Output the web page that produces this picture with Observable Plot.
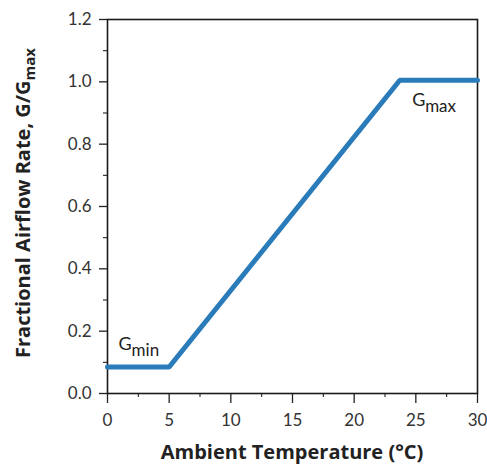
<!DOCTYPE html>
<html>
<head>
<meta charset="utf-8">
<script src="https://cdn.jsdelivr.net/npm/d3@7"></script>
<script src="https://cdn.jsdelivr.net/npm/@observablehq/plot@0.6"></script>
<style>
  html, body { margin: 0; padding: 0; background: #fff; }
  svg { display: block; }
</style>
</head>
<body>
<div id="chart"></div>
<script>
// Data
const temps = [0, 5, 23.7, 30];
const rates = [0.085, 0.085, 1.005, 1.005];

const xTicks = [0, 5, 10, 15, 20, 25, 30];
const xMinorTicks = [2.5, 7.5, 12.5, 17.5, 22.5, 27.5];
const yTicks = [0, 0.2, 0.4, 0.6, 0.8, 1.0, 1.2];
const yMinorTicks = [0.1, 0.3, 0.5, 0.7, 0.9, 1.1];

const annoBase = ["G", "G"];
const annoSub = ["min", "max"];
const annoX = [0.9, 24.7];
const annoY = [0.157, 0.94];

const xLabel = "Ambient Temperature (°C)";
const yLabelMain = "Fractional Airflow Rate, G/G";
const yLabelSub = "max";

const lineData = temps.map((t, i) => ({t, r: rates[i]}));
const annoData = annoBase.map((s, i) => ({s, sub: annoSub[i], x: annoX[i], y: annoY[i]}));
const fmtY = d3.format(".1f");

const tickFont = "Lato, sans-serif";
const labelFont = "'Open Sans', Lato, sans-serif";
const W = 487, H = 465;
const mL = 107, mR = 10, mT = 19, mB = 72;

const plot = Plot.plot({
  width: W,
  height: H,
  marginLeft: mL,
  marginRight: mR,
  marginTop: mT,
  marginBottom: mB,
  style: {fontSize: "17px", background: "#fff"},
  x: {domain: [0, 30]},
  y: {domain: [0, 1.2]},
  marks: [
    Plot.axisX({ticks: xTicks, tickSize: 10, text: null, label: null, stroke: "#222", strokeWidth: 1.3}),
    Plot.axisX({ticks: xMinorTicks, tickSize: 4, text: null, label: null, stroke: "#222", strokeWidth: 1.1}),
    Plot.axisY({ticks: yTicks, tickSize: 8, text: null, label: null, stroke: "#222", strokeWidth: 1.3}),
    Plot.axisY({ticks: yMinorTicks, tickSize: 4, text: null, label: null, stroke: "#222", strokeWidth: 1.1}),
    Plot.text(xTicks, {x: d => d, frameAnchor: "bottom", lineAnchor: "top", dy: 20, text: d => String(d), fontSize: 17, fontFamily: tickFont, fill: "#333"}),
    Plot.text(yTicks, {y: d => d, frameAnchor: "left", textAnchor: "end", dx: -16, text: d => fmtY(d), fontSize: 17, fontFamily: tickFont, fill: "#333"}),
    Plot.frame({stroke: "#1a1a1a", strokeWidth: 1.6}),
    Plot.line(lineData, {x: "t", y: "r", stroke: "#2a7bba", strokeWidth: 5, strokeLinejoin: "miter"}),
    Plot.text(annoData, {x: "x", y: "y", text: "s", textAnchor: "start", fontSize: 18, fontFamily: tickFont, fill: "#222"}),
    Plot.text(annoData, {x: "x", y: "y", text: "sub", textAnchor: "start", dx: 13, dy: 6, fontSize: 17, fontFamily: tickFont, fill: "#222"})
  ]
});

const svg = d3.select(plot);
const xs = plot.scale("x").range;
const ys = plot.scale("y").range;
const cx = (xs[0] + xs[1]) / 2;
const cy = (ys[0] + ys[1]) / 2;

svg.append("text")
  .attr("x", cx)
  .attr("y", H - 6)
  .attr("text-anchor", "middle")
  .attr("font-family", labelFont)
  .attr("font-weight", "bold")
  .attr("font-size", 20)
  .attr("fill", "#222")
  .text(xLabel);

const yl = svg.append("text")
  .attr("transform", `translate(30,${cy - 3}) rotate(-90)`)
  .attr("text-anchor", "middle")
  .attr("font-family", labelFont)
  .attr("font-weight", "bold")
  .attr("font-size", 20)
  .attr("fill", "#222");
yl.append("tspan").text(yLabelMain);
yl.append("tspan").attr("dy", "0.35em").attr("font-size", 15).text(yLabelSub);

document.getElementById("chart").appendChild(plot);
</script>
</body>
</html>
